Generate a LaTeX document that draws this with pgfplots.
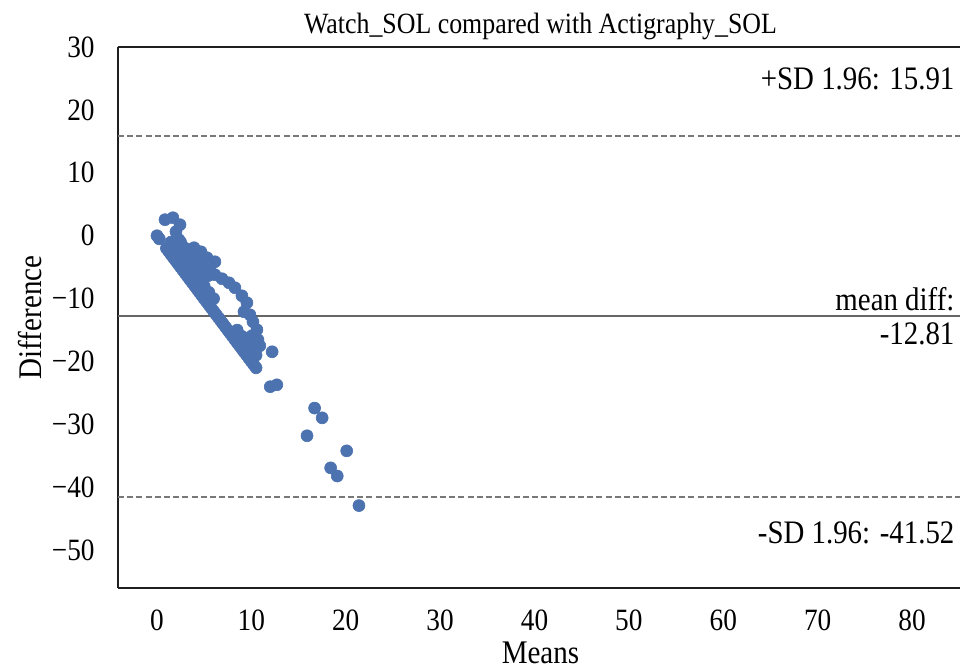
\documentclass[border=0pt]{standalone}
\usepackage{pgfplots}
\pgfplotsset{compat=1.18}
\usepackage{fontspec}
\setmainfont{Liberation Serif}[FakeStretch=0.88]
\definecolor{dotblue}{RGB}{76,114,176}
\definecolor{lgray}{RGB}{120,120,120}
\begin{document}
\begin{tikzpicture}
\begin{axis}[
  scale only axis, width=422.5pt, height=270.5pt,
  xmin=-4.13, xmax=85.4, ymin=-56, ymax=30,
  axis x line*=box, axis y line*=left,
  axis line style={black!88, line width=1.25pt},
  major tick length=0pt,
  xtick={0,10,...,80}, ytick={-50,-40,...,30},
  yticklabels={−50,−40,−30,−20,−10,0,10,20,30},
  /pgf/number format/assume math mode=true,
  tick label style={font=\fontsize{15.5}{18}\selectfont, inner sep=0pt},
  yticklabel style={anchor=east, xshift=-11.5pt},
  xticklabel style={anchor=north, yshift=-10.5pt},
  xlabel={Means}, ylabel={Difference},
  label style={font=\fontsize{16.5}{19}\selectfont},
  xlabel style={at={(axis description cs:0.5,-0.12)}, anchor=center},
  ylabel style={at={(axis description cs:-0.104,0.5)}, anchor=center, rotate=0},
  title={Watch\_SOL compared with Actigraphy\_SOL},
  title style={at={(axis description cs:0.5,1)}, anchor=center, yshift=4.5pt, font=\fontsize{14.7}{16}\selectfont},
  clip=false,
]
\coordinate (SW) at (rel axis cs:0,0);
\coordinate (NE) at (rel axis cs:1,1);
\addplot[lgray, line width=1pt, dash pattern=on 3pt off 1.6pt] coordinates {(-4.13,15.91) (85.4,15.91)};
\addplot[lgray, line width=1pt, dash pattern=on 3pt off 1.6pt] coordinates {(-4.13,-41.52) (85.4,-41.52)};
\addplot[black!60, line width=1.2pt] coordinates {(-4.13,-12.81) (85.4,-12.81)};
\addplot[only marks, mark=*, mark size=3pt, mark options={fill=dotblue, draw=dotblue, line width=0.3pt}] coordinates {
(0,0) (0.25,-0.5)
(1,-2) (1.25,-2.5) (1.5,-3) (1.75,-3.5) (2,-4) (2.25,-4.5) (2.5,-5) (2.75,-5.5) (3,-6) (3.25,-6.5)
(3.5,-7) (3.75,-7.5) (4,-8) (4.25,-8.5) (4.5,-9) (4.75,-9.5) (5,-10) (5.25,-10.5) (5.5,-11) (5.75,-11.5)
(6,-12) (6.25,-12.5) (6.5,-13) (6.75,-13.5) (7,-14) (7.25,-14.5) (7.5,-15) (7.75,-15.5) (8,-16) (8.25,-16.5)
(8.5,-17) (8.75,-17.5) (9,-18) (9.25,-18.5) (9.5,-19) (9.75,-19.5) (10,-20) (10.25,-20.5) (10.5,-21)
(12,-24) (15.9,-31.8) (18.4,-36.9) (19.1,-38.2) (21.4,-42.9)
(12.2,-18.45) (12.7,-23.7) (16.7,-27.4) (17.5,-28.95) (20.1,-34.2)
(1.5,-1) (2,-2) (2.5,-3) (3,-4) (3.5,-5) (4,-6) (4.5,-7) (5,-8) (5.5,-9) (6,-10)
(8.5,-15) (9,-16) (9.5,-17) (10,-18) (10.5,-19)
(2.5,-1) (3,-2) (3.5,-3) (4,-4) (4.5,-5) (5,-6)
(0.85,2.55) (1.69,2.86) (2.44,1.75) (2.01,0.64) (2.33,-0.64)
(3.07,-2.23) (3.92,-1.91) (4.66,-2.55) (5.3,-3.5) (6.14,-4.14) (3.5,-3.5) (4.24,-4.14) (4.87,-5.09) (5.61,-5.41)
(5.4,-6.36) (6.14,-6.2) (6.89,-6.84) (7.63,-7.48) (8.26,-8.27)
(9,-9.55) (9.53,-10.66) (9.22,-12.09) (9.85,-12.57) (10.17,-13.68) (10.59,-14.95) (10.06,-15.91) (10.7,-16.54) (10.9,-17.5)
};
\node[anchor=east, inner sep=0pt, font=\fontsize{16.4}{17}\selectfont] at (axis cs:84.53,25.0) {+SD 1.96: 15.91};
\node[anchor=east, inner sep=0pt, align=right, font=\fontsize{16.4}{17}\selectfont] at (axis cs:84.53,-12.81) {mean diff:\\-12.81};
\node[anchor=east, inner sep=0pt, font=\fontsize{16.4}{17}\selectfont] at (axis cs:84.53,-47.25) {-SD 1.96: -41.52};
\end{axis}
\pgfresetboundingbox
\useasboundingbox ([shift={(-59pt,-42pt)}]SW) rectangle ([shift={(-1.5pt,23.5pt)}]NE);
\end{tikzpicture}
\end{document}
